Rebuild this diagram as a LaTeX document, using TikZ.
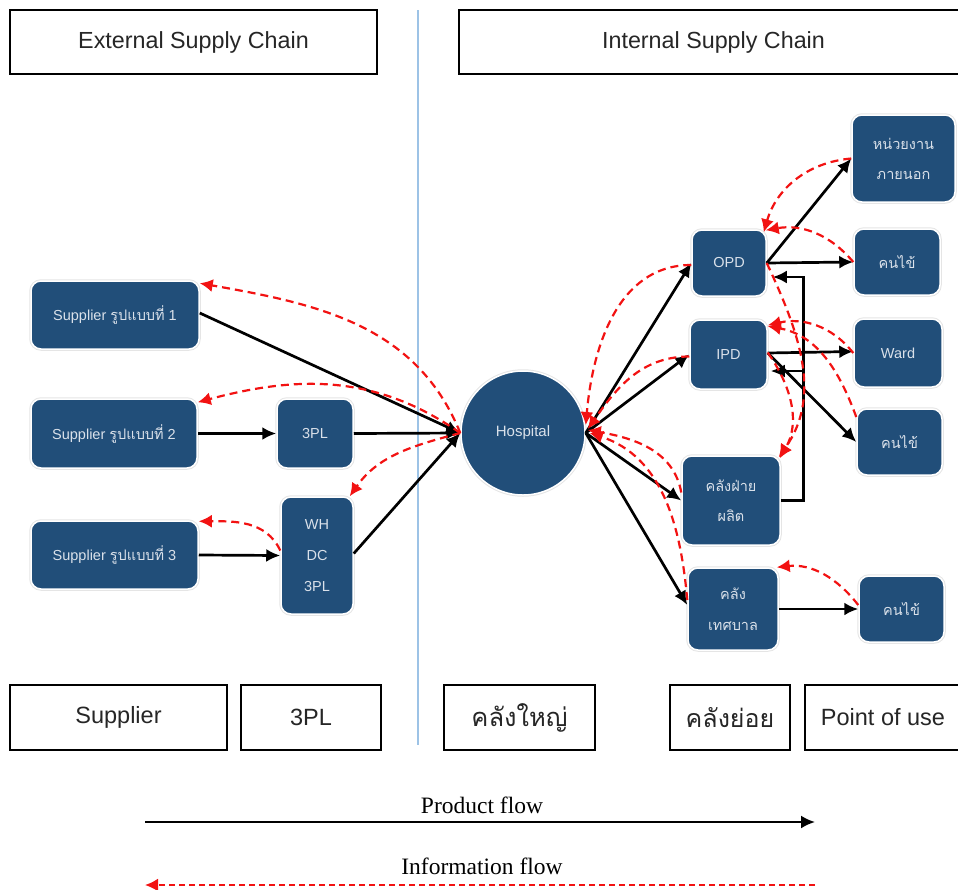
\documentclass[tikz,border=0pt]{standalone}
\usepackage{fontspec}
\setmainfont{Liberation Sans}
\newfontfamily\thai[Script=Thai]{Loma}
\newfontfamily\legendfont{Liberation Serif}
\usetikzlibrary{arrows.meta}
\definecolor{nblue}{RGB}{33,78,121}
\definecolor{ntext}{RGB}{218,225,234}
\definecolor{vline}{RGB}{157,195,230}
\definecolor{infored}{RGB}{242,18,18}
\begin{document}
\begin{tikzpicture}[x=1pt,y=1pt,
  bnode/.style={rectangle, rounded corners=10pt, fill=nblue, draw=white, line width=1.5pt,
    preaction={draw=black!10, line width=3.5pt}, text=ntext, align=center, inner sep=0pt,
    font=\fontsize{14.5}{30}\selectfont},
  thnode/.style={bnode, font=\thai\fontsize{14.5}{30}\selectfont},
  hdr/.style={draw=black, line width=1.5pt, fill=white, minimum height=64pt, inner sep=0pt,
    text=black!85, font=\fontsize{23.3}{26}\selectfont},
  ftr/.style={draw=black, line width=1.5pt, fill=white, minimum height=65pt, inner sep=0pt,
    text=black!85, font=\fontsize{23.5}{26}\selectfont},
  prod/.style={draw=black, line width=2.7pt, -{Latex[length=14pt,width=13pt]}},
  info/.style={draw=infored, line width=2.2pt, dash pattern=on 8pt off 5pt,
    -{Latex[length=13pt,width=13pt]}},
]
\useasboundingbox (0,0) rectangle (958,-889);

% divider
\coordinate (vtop) at (418,-10);
\coordinate (vbot) at (418,-745);
\draw[vline, line width=1.6pt] (vtop) -- (vbot);

% headers
\node[hdr, minimum width=367pt] (esc) at (193.5,-42) {External Supply Chain};
\node[hdr, minimum width=509pt] (isc) at (713.5,-42) {Internal Supply Chain};

% footers
\node[ftr, minimum width=217pt] (fsup) at (118.5,-717.5) {Supplier};
\node[ftr, minimum width=140pt] (f3pl) at (311,-717.5) {3PL};
\node[ftr, minimum width=151pt, font=\thai\fontsize{25.5}{28}\selectfont] (fbig) at (519.5,-717.5) {คลังใหญ่};
\node[ftr, minimum width=120pt, font=\thai\fontsize{25}{28}\selectfont] (fsub) at (730,-717.5) {คลังย่อย};
\node[ftr, minimum width=156pt] (fpou) at (883,-717.5) {Point of use};

% external nodes
\node[bnode, minimum width=168pt, minimum height=68pt] (s1) at (115,-315) {Supplier {\thai รูปแบบที่} 1};
\node[bnode, minimum width=166pt, minimum height=69pt] (s2) at (114,-433.5) {Supplier {\thai รูปแบบที่} 2};
\node[bnode, minimum width=167pt, minimum height=68pt] (s3) at (114.5,-555) {Supplier {\thai รูปแบบที่} 3};
\node[bnode, minimum width=76pt, minimum height=69pt] (tpl) at (315,-433.5) {3PL};
\node[bnode, minimum width=72pt, minimum height=117pt, font=\fontsize{14.5}{31}\selectfont] (wh) at (317,-555.5) {WH\\DC\\3PL};

% hospital
\node[bnode, circle, minimum size=124pt, font=\fontsize{15}{17}\selectfont] (hosp) at (523,-433) {Hospital};

% internal nodes
\node[bnode, minimum width=74pt, minimum height=66pt] (opd) at (729,-263) {OPD};
\node[bnode, minimum width=77pt, minimum height=69pt] (ipd) at (728.5,-354.5) {IPD};
\node[thnode, minimum width=98pt, minimum height=89pt] (kfp) at (731,-500.5) {คลังฝ่าย\\ผลิต};
\node[thnode, minimum width=90pt, minimum height=82pt, font=\thai\fontsize{14.5}{31}\selectfont] (kts) at (733,-609) {คลัง\\เทศบาล};

\node[thnode, minimum width=103pt, minimum height=87pt] (ext) at (903.5,-158.5) {หน่วยงาน\\ภายนอก};
\node[thnode, minimum width=86pt, minimum height=66pt] (pt1) at (897,-262) {คนไข้};
\node[bnode, minimum width=88pt, minimum height=68pt] (ward) at (898,-353) {Ward};
\node[thnode, minimum width=85pt, minimum height=66pt] (pt2) at (899.5,-442) {คนไข้};
\node[thnode, minimum width=85pt, minimum height=66pt] (pt3) at (901.5,-609) {คนไข้};

% product flow (black)
\draw[prod] ([yshift=2pt]s1.east) -- (hosp.west);
\draw[prod] (s2.east) -- (tpl.west);
\draw[prod] (tpl.east) -- (hosp.west);
\draw[prod] (s3.east) -- (wh.west);
\draw[prod] ([yshift=2pt]wh.east) -- (hosp.west);

\draw[prod] (hosp.east) -- (opd.west);
\draw[prod] (hosp.east) -- (ipd.west);
\draw[prod] (hosp.east) -- (kfp.west);
\draw[prod] (hosp.east) -- ([yshift=4pt]kts.west);

\draw[prod] (opd.east) -- (ext.west);
\draw[prod] (opd.east) -- (pt1.west);
\draw[prod] ([yshift=1.5pt]ipd.east) -- ([yshift=1.5pt]ward.west);
\draw[prod] ([yshift=1.5pt]ipd.east) -- (pt2.west);
\draw[prod] (kts.east) -- (pt3.west);

\draw[prod] (kfp.east) -- ++(23,0) |- ([xshift=6pt,yshift=-14pt]opd.east);
\draw[prod] (kfp.east) -- ++(23,0) |- ([xshift=3pt,yshift=-16.5pt]ipd.east);

% information flow (red dashed)
\draw[info] (hosp.west) to[out=112,in=-10] ([yshift=-3pt]s1.north east);
\draw[info] (hosp.west) to[out=145,in=15] ([yshift=-4pt]s2.north east);
\draw[info] (hosp.west) to[out=195,in=55] ([xshift=-4pt]wh.north east);
\draw[info] ([yshift=5pt]wh.west) to[out=115,in=0] ([yshift=-1pt]s3.north east);

\draw[info] ([yshift=-2pt]opd.west) to[out=180,in=85] ([yshift=8pt]hosp.east);
\draw[info] ([yshift=-2pt]ipd.west) to[out=180,in=55] ([xshift=2pt,yshift=4pt]hosp.east);
\draw[info] ([yshift=8pt]kfp.west) to[out=100,in=-10] ([xshift=2pt,yshift=3pt]hosp.east);
\draw[info] ([yshift=9pt]kts.west) to[out=95,in=-18] ([xshift=4pt]hosp.east);

\draw[info] (ext.west) to[out=185,in=74] ([xshift=-3pt,yshift=-3pt]opd.north east);
\draw[info] (pt1.west) to[out=130,in=10] ([xshift=-1pt,yshift=-1pt]opd.north east);
\draw[info] (opd.east) to[out=-65,in=55] ([xshift=-2pt,yshift=-2pt]kfp.north east);
\draw[info] ([yshift=2pt]ipd.east) to[out=-55,in=60] ([xshift=-1pt,yshift=-3pt]kfp.north east);
\draw[info] (ward.west) to[out=128,in=13] ([yshift=-6pt]ipd.north east);
\draw[info] ([yshift=25pt]pt2.west) to[out=110,in=-10] ([yshift=-7pt]ipd.north east);
\draw[info] ([yshift=4pt]pt3.west) to[out=128,in=6] ([xshift=-2pt]kts.north east);

% legend
\node[font=\legendfont\fontsize{23.5}{26}\selectfont] (pft) at (482,-805) {Product flow};
\coordinate (pf1) at (145,-822);
\coordinate (pf2) at (815,-822);
\draw[prod, line width=2.2pt] (pf1) -- (pf2);
\node[font=\legendfont\fontsize{23.5}{26}\selectfont] (ift) at (482,-866) {Information flow};
\coordinate (if1) at (815,-885);
\coordinate (if2) at (145,-885);
\draw[info, line width=2pt, dash pattern=on 6pt off 4pt] (if1) -- (if2);
\end{tikzpicture}
\end{document}
